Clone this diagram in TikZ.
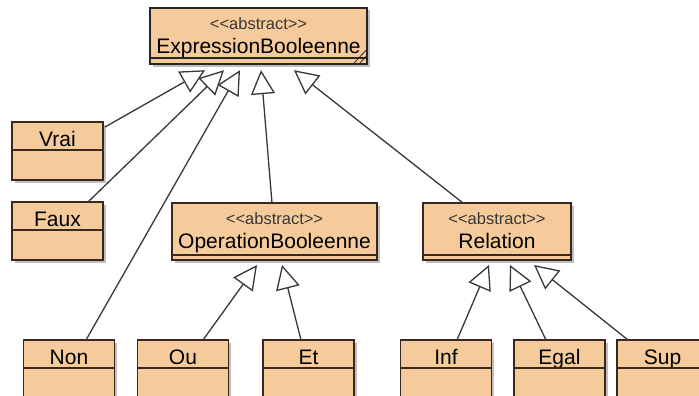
\documentclass[tikz,border=0pt]{standalone}
\usepackage{fontspec}
\newfontfamily\umlfont{Liberation Sans}
\usetikzlibrary{arrows.meta,positioning,shadows}

\definecolor{klasse}{RGB}{246,203,156}
\definecolor{rand}{RGB}{58,40,30}
\definecolor{linie}{RGB}{55,55,55}
\definecolor{stereo}{RGB}{55,55,55}

\def\stereo{\fontsize{16.5pt}{18pt}\selectfont\color{stereo}}

\begin{document}
\begin{tikzpicture}[x=1pt,y=-1pt,
	schatten/.style={drop shadow={shadow xshift=2.5pt,shadow yshift=-2.5pt,fill=black!25,opacity=1}},
	kasten/.style={draw=rand,fill=klasse,line width=1.3pt,inner sep=0pt,outer sep=0pt,schatten},
	kopf/.style={kasten,minimum width=91pt,minimum height=28pt,text height=24.5pt,text depth=3.5pt,
		font=\umlfont\fontsize{21pt}{24pt}\selectfont,text=black},
	abstrakt/.style={kasten,align=center,font=\umlfont\fontsize{21pt}{24pt}\selectfont,text=black},
	koerper/.style={kasten,minimum width=#1,minimum height=30pt},
	koerper/.default=91pt,
	erbt/.style={draw=linie,line width=1.3pt,-{Triangle[open,length=24pt,width=24pt]}}
]

\useasboundingbox (0,0) rectangle (699,396);
\clip (0,0) rectangle (699,396);

% oberklasse
\node[abstrakt,minimum width=217pt,minimum height=50pt,line width=2pt,draw=black!85] (expr) at (258.5,33)
	{\rule{0pt}{22pt}{\stereo <<abstract>>}\\ExpressionBooleenne};
\node[koerper=217pt,minimum height=6pt,line width=2pt,draw=black!85,below=0pt of expr] (exprb) {};
\draw[line width=0.8pt,draw=rand] ([xshift=-14pt]exprb.south east) -- ([yshift=15pt]exprb.south east)
	([xshift=-8pt]exprb.south east) -- ([yshift=9pt]exprb.south east);

% abstrakte unterklassen
\node[abstrakt,minimum width=205pt,minimum height=52pt] (ob) at (274.5,229)
	{\rule{0pt}{21pt}{\stereo <<abstract>>}\\OperationBooleenne\rule[-7pt]{0pt}{7pt}};
\node[koerper=205pt,minimum height=5pt,below=0pt of ob] (obb) {};

\node[abstrakt,minimum width=148pt,minimum height=52pt] (rel) at (497,229)
	{\rule{0pt}{21pt}{\stereo <<abstract>>}\\Relation\rule[-7pt]{0pt}{7pt}};
\node[koerper=148pt,minimum height=5pt,below=0pt of rel] (relb) {};

% konstanten
\node[kopf] (vrai) at (57.5,136) {Vrai};
\node[koerper,below=0pt of vrai] (vraib) {};
\node[kopf] (faux) at (57.5,216) {Faux};
\node[koerper,below=0pt of faux] (fauxb) {};

% untere reihe
\node[kopf] (non) at (69,354) {Non};
\node[koerper,below=0pt of non] (nonb) {};
\node[kopf] (ou) at (183,354) {Ou};
\node[koerper,below=0pt of ou] (oub) {};
\node[kopf] (et) at (308.5,354) {Et};
\node[koerper,below=0pt of et] (etb) {};
\node[kopf] (inf) at (446,354) {Inf};
\node[koerper,below=0pt of inf] (infb) {};
\node[kopf] (egal) at (559.5,354) {Egal};
\node[koerper,below=0pt of egal] (egalb) {};
\node[kopf] (sup) at (662.5,354) {Sup};
\node[koerper,below=0pt of sup] (supb) {};

% vererbung
\draw[erbt] ([xshift=2pt,yshift=-5pt]vrai.north east) -- ([xshift=-53.5pt,yshift=-6pt]exprb.south);
\draw[erbt] ([xshift=30.5pt]faux.north) -- ([xshift=-34.5pt,yshift=-6pt]exprb.south);
\draw[erbt] ([xshift=17pt]non.north) -- ([xshift=-18.5pt,yshift=-6pt]exprb.south);
\draw[erbt] ([xshift=-2.5pt]ob.north) -- ([xshift=2.5pt,yshift=-6pt]exprb.south);
\draw[erbt] ([xshift=-34pt]rel.north) -- ([xshift=35.5pt,yshift=-6pt]exprb.south);

\draw[erbt] ([xshift=20pt]ou.north) -- ([xshift=-17.5pt,yshift=-5pt]obb.south);
\draw[erbt] ([xshift=-7.5pt]et.north) -- ([xshift=7.5pt,yshift=-5pt]obb.south);

\draw[erbt] ([xshift=11pt]inf.north) -- ([xshift=-8pt,yshift=-5pt]relb.south);
\draw[erbt] ([xshift=-13.5pt]egal.north) -- ([xshift=13pt,yshift=-5pt]relb.south);
\draw[erbt] ([xshift=-34.5pt]sup.north) -- ([xshift=37pt,yshift=-5pt]relb.south);

\end{tikzpicture}
\end{document}
